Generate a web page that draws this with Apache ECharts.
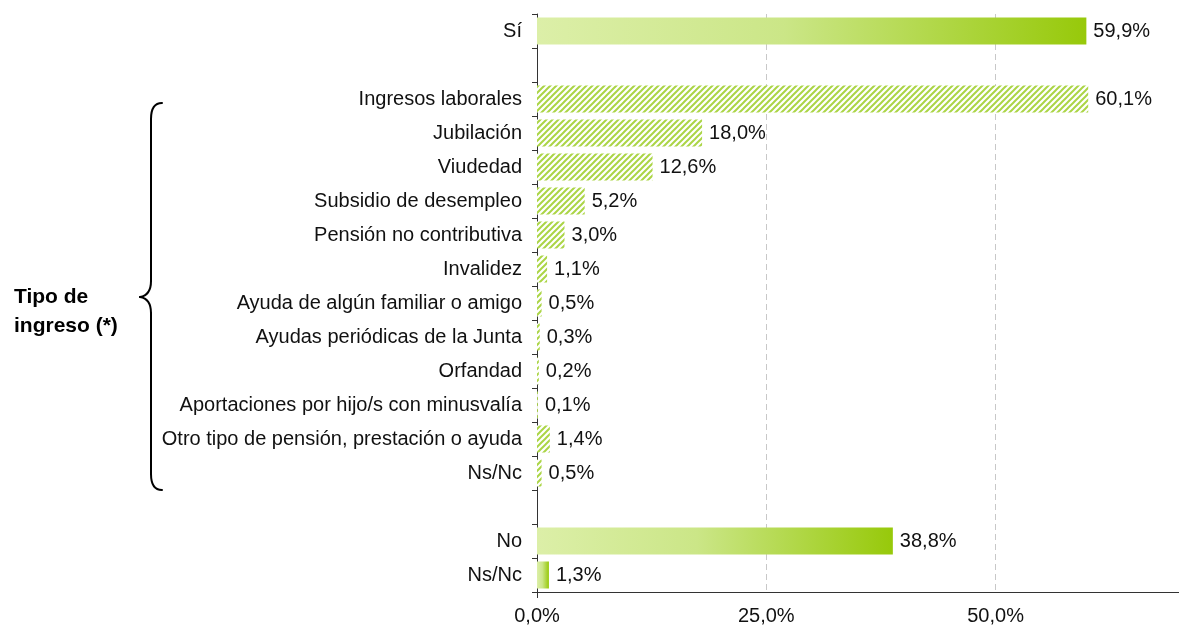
<!DOCTYPE html>
<html>
<head>
<meta charset="utf-8">
<script src="https://cdn.jsdelivr.net/npm/echarts@6/dist/echarts.min.js"></script>
<style>
  html, body { margin: 0; padding: 0; background: #fff; }
  #chart { width: 1179px; height: 630px; }
</style>
</head>
<body>
<div id="chart"></div>
<script>
// categories, top to bottom ('' = spacer row)
const categories = [
    'Sí', '',
    'Ingresos laborales', 'Jubilación', 'Viudedad', 'Subsidio de desempleo',
    'Pensión no contributiva', 'Invalidez', 'Ayuda de algún familiar o amigo',
    'Ayudas periódicas de la Junta', 'Orfandad', 'Aportaciones por hijo/s con minusvalía',
    'Otro tipo de pensión, prestación o ayuda', 'Ns/Nc', '',
    'No', 'Ns/Nc'
];
const values = [59.9, null, 60.1, 18.0, 12.6, 5.2, 3.0, 1.1, 0.5, 0.3, 0.2, 0.1, 1.4, 0.5, null, 38.8, 1.3];
// which rows are the hatched "tipo de ingreso" breakdown
const isSub = [false, false, true, true, true, true, true, true, true, true, true, true, true, true, false, false, false];
const xTicks = [0, 25, 50];
const groupTitle = 'Tipo de\ningreso (*)';

const chart = echarts.init(document.getElementById('chart'));

// diagonal hatch pattern for breakdown bars
function hatch() {
    const s = 6;
    const c = document.createElement('canvas');
    c.width = s; c.height = s;
    const ctx = c.getContext('2d');
    ctx.fillStyle = '#ffffff';
    ctx.fillRect(0, 0, s, s);
    ctx.strokeStyle = '#abd546';
    ctx.lineWidth = 2;
    ctx.beginPath();
    ctx.moveTo(-1, s + 1); ctx.lineTo(s + 1, -1);
    ctx.moveTo(-1, 1); ctx.lineTo(1, -1);
    ctx.moveTo(s - 1, s + 1); ctx.lineTo(s + 1, s - 1);
    ctx.stroke();
    return c;
}
const hatchImg = hatch();

const gradient = new echarts.graphic.LinearGradient(0, 0, 1, 0, [
    { offset: 0, color: '#dcefa8' },
    { offset: 0.45, color: '#cbe687' },
    { offset: 1, color: '#97c90a' }
]);

const fmt = v => v.toFixed(1).replace('.', ',') + '%';

const seriesData = values.map((v, i) => ({
    value: v == null ? '-' : v,
    itemStyle: {
        color: isSub[i] ? { image: hatchImg, repeat: 'repeat' } : gradient
    }
}));

// brace "{" on the left
const bx = 151, bTop = 103, bMid = 297, bBot = 490;
const braceStyle = { stroke: '#000', lineWidth: 2, fill: null, lineCap: 'round' };
const brace = [
    { type: 'bezierCurve', shape: { x1: 162, y1: bTop, cpx1: 154, cpy1: bTop, cpx2: bx, cpy2: bTop + 6, x2: bx, y2: bTop + 16 }, style: braceStyle },
    { type: 'line', shape: { x1: bx, y1: bTop + 16, x2: bx, y2: bMid - 16 }, style: braceStyle },
    { type: 'bezierCurve', shape: { x1: bx, y1: bMid - 16, cpx1: bx, cpy1: bMid - 5, cpx2: 146, cpy2: bMid - 1, x2: 140, y2: bMid }, style: braceStyle },
    { type: 'bezierCurve', shape: { x1: 140, y1: bMid, cpx1: 146, cpy1: bMid + 1, cpx2: bx, cpy2: bMid + 5, x2: bx, y2: bMid + 16 }, style: braceStyle },
    { type: 'line', shape: { x1: bx, y1: bMid + 16, x2: bx, y2: bBot - 16 }, style: braceStyle },
    { type: 'bezierCurve', shape: { x1: bx, y1: bBot - 16, cpx1: bx, cpy1: bBot - 6, cpx2: 154, cpy2: bBot, x2: 162, y2: bBot }, style: braceStyle }
];

const option = {
    animation: false,
    textStyle: { fontFamily: 'Liberation Sans, Arial, sans-serif' },
    grid: { left: 537, right: 0, top: 14, bottom: 38, outerBoundsMode: 'none' },
    xAxis: {
        type: 'value',
        min: 0,
        max: 70,
        interval: 25,
        axisLine: { show: true, lineStyle: { color: '#333', width: 1 } },
        axisTick: { show: false },
        axisLabel: {
            margin: 14,
            fontSize: 20,
            color: '#111',
            formatter: v => xTicks.includes(v) ? fmt(v) : ''
        },
        splitLine: { show: true, lineStyle: { color: '#c8c8c8', type: [6, 4], width: 1 } }
    },
    yAxis: {
        type: 'category',
        inverse: true,
        data: categories,
        axisLine: { show: true, lineStyle: { color: '#333', width: 1 } },
        axisTick: { show: true, length: 5, lineStyle: { color: '#333' } },
        axisLabel: { margin: 15, fontSize: 20, color: '#111' },
        splitLine: { show: false }
    },
    series: [{
        type: 'bar',
        barWidth: 27,
        data: seriesData,
        label: {
            show: true,
            position: 'right',
            distance: 7,
            fontSize: 20,
            color: '#111',
            formatter: p => fmt(p.value)
        }
    }],
    graphic: brace.concat([
        // small tick under the origin
        { type: 'line', shape: { x1: 537.5, y1: 592, x2: 537.5, y2: 598 }, style: { stroke: '#333', lineWidth: 1 } },
        {
            type: 'text',
            left: 14,
            top: 283,
            style: {
                text: groupTitle,
                font: 'bold 21px Liberation Sans, Arial, sans-serif',
                fill: '#000',
                lineHeight: 29
            }
        }
    ])
};

chart.setOption(option);
</script>
</body>
</html>
